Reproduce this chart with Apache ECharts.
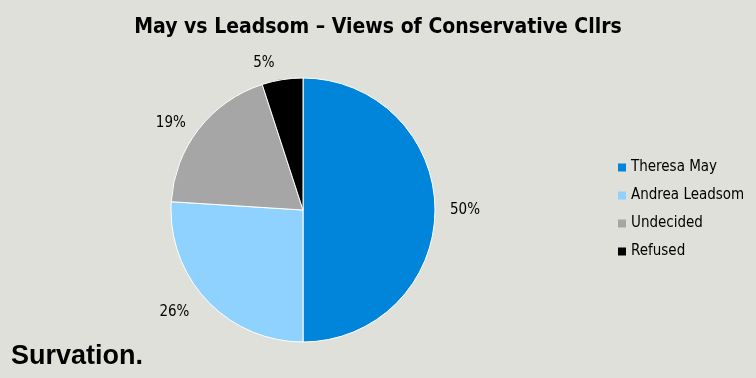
<!DOCTYPE html>
<html>
<head>
<meta charset="utf-8">
<script src="https://cdn.jsdelivr.net/npm/echarts@6/dist/echarts.min.js"></script>
<style>
    html, body { margin: 0; padding: 0; background: #dfe0d9; }
    #chart { width: 756px; height: 378px; }
</style>
</head>
<body>
<div id="chart"></div>
<script>
    const categories = ['Theresa May', 'Andrea Leadsom', 'Undecided', 'Refused'];
    const shares = [50, 26, 19, 5];
    const colors = ['#0085da', '#8fd1ff', '#a6a6a6', '#000000'];
    // how far each percentage label sits out from the rim
    const labelGaps = [10, 17, 10, 17];

    const font = '"DejaVu Sans Condensed", Roboto, sans-serif';

    const chart = echarts.init(document.getElementById('chart'));
    chart.setOption({
        backgroundColor: '#dfe0d9',
        title: {
            text: 'May vs Leadsom \u2013 Views of Conservative Cllrs',
            left: 'center',
            top: 12,
            textStyle: {
                fontFamily: font,
                fontWeight: 'bold',
                fontSize: 21,
                color: '#000'
            }
        },
        legend: {
            orient: 'vertical',
            left: 613,
            top: 155,
            itemWidth: 8,
            itemHeight: 8,
            itemGap: 13,
            icon: 'rect',
            itemStyle: { borderWidth: 0 },
            textStyle: {
                fontFamily: font,
                fontSize: 15,
                color: '#000'
            },
            data: categories
        },
        graphic: [{
            type: 'text',
            left: 11,
            top: 343,
            style: {
                text: 'Survation.',
                font: 'bold 27px "Liberation Sans"',
                fill: '#000'
            }
        }],
        series: [{
            type: 'pie',
            center: [303, 210],
            radius: 132,
            startAngle: 90,
            clockwise: true,
            animation: false,
            itemStyle: { borderColor: '#fff', borderWidth: 1 },
            label: {
                position: 'outside',
                formatter: '{c}%',
                fontFamily: font,
                fontSize: 15,
                color: '#000'
            },
            labelLine: { show: false, length: 10, length2: 0 },
            emphasis: { disabled: true },
            data: categories.map((name, i) => ({
                name: name,
                value: shares[i],
                itemStyle: { color: colors[i] },
                labelLine: { show: false, length: labelGaps[i], length2: 0 }
            }))
        }]
    });
</script>
</body>
</html>
